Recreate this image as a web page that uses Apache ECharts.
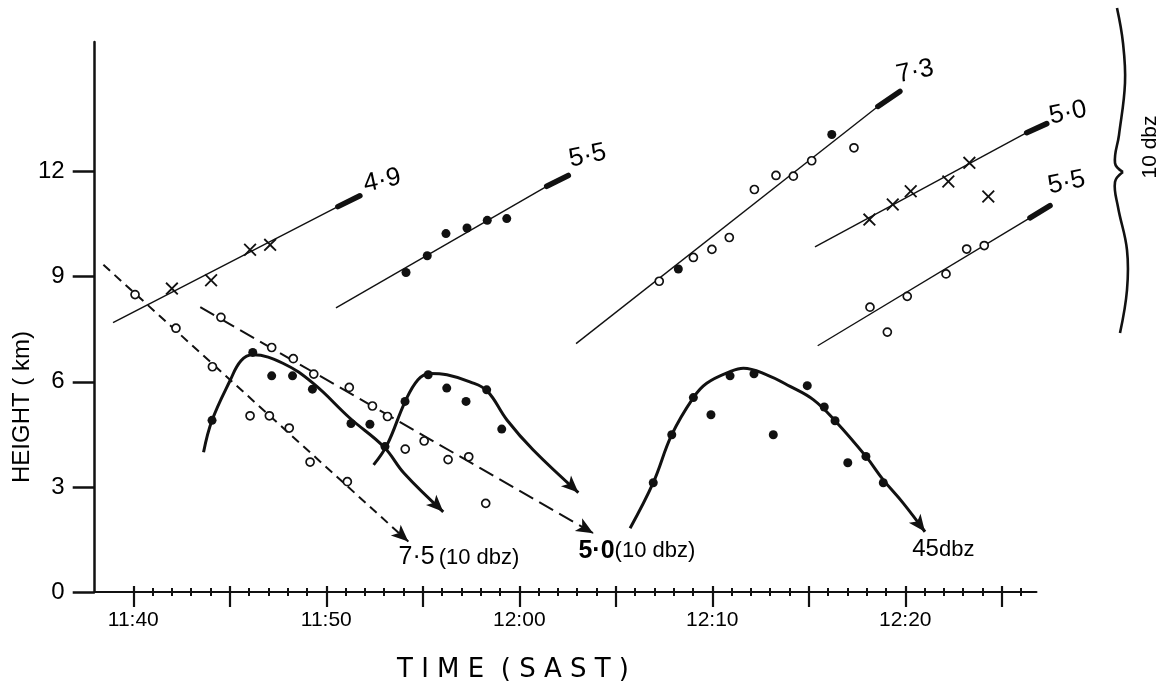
<!DOCTYPE html>
<html>
<head>
<meta charset="utf-8">
<title>Echo top heights (SAST)</title>
<script src="https://cdn.jsdelivr.net/npm/echarts@6.0.0/dist/echarts.min.js"></script>
<style>
  html, body { margin: 0; padding: 0; background: #fff; }
  #main { width: 1168px; height: 698px; }
</style>
</head>
<body>
<div id="main"></div>
<script>
var ink = '#111';

// axis: x in minutes after 11:00 SAST, y in km
var timeLabels = [40, 50, 60, 70, 80];
var fiveMinTicks = [40, 45, 50, 55, 60, 65, 70, 75, 80, 85];
var minuteTicks = [];
for (var m = 40; m <= 86; m++) minuteTicks.push(m);
var heightTicks = [0, 3, 6, 9, 12];

// 4·9 cell (crosses)
var fit49 = [[38.95, 7.69], [50.6, 11.0]];
var head49 = [[50.6, 11.0], [51.74, 11.31]];
var cross49 = [[42.0, 8.66], [44.03, 8.9], [46.05, 9.77], [47.09, 9.91]];

// 5·5 cell (dots)
var fit55a = [[50.5, 8.11], [61.42, 11.58]];
var head55a = [[61.42, 11.58], [62.54, 11.89]];
var dots55a = [[54.13, 9.12], [55.23, 9.6], [56.2, 10.23], [57.29, 10.39], [58.34, 10.61], [59.35, 10.66]];

// 7·3 cell (circles, two dots)
var fit73 = [[62.94, 7.09], [78.58, 13.86]];
var head73 = [[78.58, 13.86], [79.72, 14.29]];
var rings73 = [[67.25, 8.87], [69.02, 9.55], [69.98, 9.78], [70.88, 10.12], [72.18, 11.49],
               [73.3, 11.89], [74.2, 11.87], [75.15, 12.31], [77.34, 12.68]];
var dots73 = [[68.24, 9.22], [76.19, 13.06]];

// 5·0 cell (crosses)
var fit50 = [[75.32, 9.85], [86.29, 13.11]];
var head50 = [[86.29, 13.11], [87.33, 13.37]];
var cross50 = [[78.14, 10.63], [79.35, 11.06], [80.28, 11.44], [82.23, 11.72], [83.32, 12.25], [84.3, 11.29]];

// lower 5·5 cell (circles)
var fit55b = [[75.46, 7.03], [86.46, 10.68]];
var head55b = [[86.46, 10.68], [87.5, 11.03]];
var rings55b = [[78.17, 8.13], [79.07, 7.42], [80.1, 8.44], [82.11, 9.08], [83.18, 9.79], [84.09, 9.89]];

// 10 dbz descending tops
var lineA = [[38.45, 9.34], [54.25, 1.44]];
var ringsA = [[40.09, 8.49], [42.21, 7.53], [44.1, 6.43], [46.05, 5.03], [47.05, 5.03],
              [48.08, 4.68], [49.16, 3.71], [51.09, 3.15]];
var lineB = [[43.47, 8.13], [63.83, 1.68]];
var ringsB = [[44.54, 7.84], [47.17, 6.98], [48.29, 6.66], [49.35, 6.22], [51.19, 5.84], [52.39, 5.31],
              [53.17, 5.01], [54.09, 4.08], [55.07, 4.31], [56.31, 3.78], [57.38, 3.86], [58.26, 2.53]];

// 45 dbz tops
var curve1 = [[43.64, 3.99], [44.08, 4.9], [45.01, 6.03], [45.58, 6.6], [46.2, 6.77], [47.75, 6.53],
              [49.31, 5.96], [51.23, 4.96], [52.99, 4.14], [54.03, 3.39], [56.06, 2.29]];
var dots1 = [[44.08, 4.9], [46.19, 6.84], [47.17, 6.17], [48.25, 6.17], [49.28, 5.79],
             [51.28, 4.81], [52.26, 4.79], [53.04, 4.15]];
var curve2 = [[52.45, 3.63], [53.15, 4.2], [54.08, 5.43], [54.75, 6.06], [55.37, 6.24], [56.25, 6.2],
              [57.44, 6.0], [58.33, 5.74], [59.36, 4.91], [60.71, 4.06], [63.06, 2.84]];
var dots2 = [[54.08, 5.44], [55.28, 6.2], [56.24, 5.82], [57.24, 5.44], [58.31, 5.77], [59.09, 4.65]];
var curve3 = [[65.74, 1.82], [66.94, 3.12], [67.9, 4.49], [69.02, 5.55], [69.71, 5.96], [70.92, 6.29],
              [71.61, 6.39], [72.82, 6.2], [74.03, 5.87], [75.23, 5.49], [76.36, 4.89], [77.96, 3.87],
              [78.86, 3.2], [79.9, 2.53], [81.02, 1.72]];
var dots3 = [[66.94, 3.12], [67.9, 4.49], [69.02, 5.55], [69.93, 5.06], [70.92, 6.17], [72.16, 6.23],
             [73.16, 4.49], [74.92, 5.89], [75.8, 5.28], [76.36, 4.89], [77.02, 3.69], [77.96, 3.87], [78.86, 3.12]];

var crossPath = 'path://M1,0L5,4L9,0L10,1L6,5L10,9L9,10L5,6L1,10L0,9L4,5L0,1Z';
var font = 'Liberation Sans, Arial, sans-serif';

function thin(pts) {
  return { type: 'line', data: pts, symbol: 'none', silent: true, z: 2,
           lineStyle: { color: ink, width: 1.4 } };
}
function head(pts) {
  return { type: 'line', data: pts, symbol: 'none', silent: true, z: 2,
           lineStyle: { color: ink, width: 5.5, cap: 'round' } };
}
function arrowed(pts, dash, width) {
  var n = pts.length;
  return {
    type: 'line', data: pts, symbol: 'none', silent: true, z: 3,
    smooth: dash ? false : 0.4,
    lineStyle: { color: ink, width: width, type: dash || 'solid' },
    markLine: {
      silent: true, animation: false, symbol: ['none', 'arrow'], symbolSize: [11, 17],
      lineStyle: { color: ink, width: 0, type: 'solid' }, label: { show: false },
      data: [[{ coord: pts[n - 2] }, { coord: pts[n - 1] }]]
    }
  };
}
function marks(pts, kind) {
  var s = { type: 'scatter', data: pts, silent: true, z: 5 };
  if (kind === 'ring') {
    s.symbol = 'circle'; s.symbolSize = 8;
    s.itemStyle = { color: '#fff', borderColor: ink, borderWidth: 1.7, opacity: 1 };
  } else if (kind === 'dot') {
    s.symbol = 'circle'; s.symbolSize = 9;
    s.itemStyle = { color: ink, opacity: 1 };
  } else {
    s.symbol = crossPath; s.symbolSize = 13;
    s.itemStyle = { color: ink, opacity: 1 };
  }
  return s;
}
function tag(pt, text, offset, extra) {
  var label = { show: true, position: 'right', distance: 4, offset: offset, color: '#000',
                fontFamily: font, fontSize: 26, formatter: text };
  for (var k in extra) label[k] = extra[k];
  return { type: 'scatter', data: [pt], symbolSize: 0.5, itemStyle: { color: ink, opacity: 1 },
           silent: true, z: 6, label: label };
}

// grid 0 carries the visible axes; grid 1 (same scale, a little wider) carries the data
var baseX = { type: 'value', min: 38, max: 86.8, gridIndex: 0, position: 'bottom', splitLine: { show: false } };
function xAx(extra) {
  var a = {};
  for (var k in baseX) a[k] = baseX[k];
  for (var j in extra) a[j] = extra[j];
  return a;
}

var series = [
  thin(fit49), head(head49), marks(cross49, 'cross'),
  thin(fit55a), head(head55a), marks(dots55a, 'dot'),
  thin(fit73), head(head73), marks(rings73, 'ring'), marks(dots73, 'dot'),
  thin(fit50), head(head50), marks(cross50, 'cross'),
  thin(fit55b), head(head55b), marks(rings55b, 'ring'),
  arrowed(lineA, [9, 6], 2), marks(ringsA, 'ring'),
  arrowed(lineB, [16, 7], 2), marks(ringsB, 'ring'),
  arrowed(curve1, null, 3), marks(dots1, 'dot'),
  arrowed(curve2, null, 3), marks(dots2, 'dot'),
  arrowed(curve3, null, 3), marks(dots3, 'dot'),
  tag(head49[1], '4·9', [2, -11], { rotate: 12 }),
  tag(head55a[1], '5·5', [0, -16], { rotate: 12 }),
  tag(head73[1], '7·3', [-4, -17], { rotate: 12 }),
  tag(head50[1], '5·0', [0, -7], { rotate: 12 }),
  tag(head55b[1], '5·5', [-2, -20], { rotate: 12 }),
  tag(lineA[1], '{a|7·5}{b|(10 dbz)}', [-14, 16],
      { rich: { a: { fontSize: 25, fontFamily: font, color: '#000' }, b: { fontSize: 22, fontFamily: font, color: '#000', padding: [0, 0, 0, 4] } } }),
  tag(lineB[1], '{a|5·0}{b|(10 dbz)}', [-19, 18],
      { rich: { a: { fontSize: 25, fontWeight: 'bold', fontFamily: font, color: '#000' }, b: { fontSize: 22, fontFamily: font, color: '#000' } } }),
  tag(curve3[curve3.length - 1], '{a|45}{b|dbz}', [-17, 18],
      { rich: { a: { fontSize: 24, fontFamily: font, color: '#000' }, b: { fontSize: 22, fontFamily: font, color: '#000' } } })
];
series.forEach(function (s) { s.xAxisIndex = 4; s.yAxisIndex = 1; s.clip = false; });

var chart = echarts.init(document.getElementById('main'));
chart.setOption({
  animation: false,
  backgroundColor: '#fff',
  grid: [
    { left: 94.7, right: 131.5, top: 42, bottom: 106 },
    { left: 94.7, right: 108.3, top: 42, bottom: 106 }
  ],
  xAxis: [
    xAx({
      axisLine: { show: true, lineStyle: { color: ink, width: 2 } },
      axisTick: { show: true, customValues: minuteTicks, length: 4, lineStyle: { color: ink, width: 2 } },
      axisLabel: {
        customValues: timeLabels, margin: 18, color: '#000', fontFamily: font, fontSize: 21,
        formatter: function (v) {
          var h = 11 + Math.floor(v / 60), mm = v % 60;
          return h + ':' + (mm < 10 ? '0' + mm : mm);
        }
      }
    }),
    xAx({ axisLine: { show: false }, axisLabel: { show: false },
          axisTick: { show: true, inside: true, customValues: minuteTicks, length: 4, lineStyle: { color: ink, width: 2 } } }),
    xAx({ axisLine: { show: false }, axisLabel: { show: false },
          axisTick: { show: true, customValues: fiveMinTicks, length: 15, lineStyle: { color: ink, width: 2.2 } } }),
    xAx({ axisLine: { show: false }, axisLabel: { show: false },
          axisTick: { show: true, inside: true, customValues: fiveMinTicks, length: 6, lineStyle: { color: ink, width: 2.2 } } }),
    { type: 'value', gridIndex: 1, min: 38, max: 88, show: false }
  ],
  yAxis: [
    {
      type: 'value', gridIndex: 0, min: 0, max: 15.7, splitLine: { show: false },
      axisLine: { show: true, lineStyle: { color: ink, width: 2.5 } },
      axisTick: { show: true, customValues: heightTicks, length: 22, lineStyle: { color: ink, width: 2.5 } },
      axisLabel: { customValues: heightTicks, margin: 30, color: '#000', fontFamily: font, fontSize: 24 }
    },
    { type: 'value', gridIndex: 1, min: 0, max: 15.7, show: false }
  ],
  graphic: [
    { type: 'text', x: 22, y: 407, rotation: Math.PI / 2,
      style: { text: 'HEIGHT ( km)', fill: '#000', font: '24px ' + font, align: 'center', verticalAlign: 'middle' } },
    { type: 'text', x: 513, y: 670,
      style: { text: 'T I M E  ( S A S T )', fill: '#000', font: '26px DejaVu Sans, sans-serif', align: 'center', verticalAlign: 'middle' } },
    { type: 'polyline', shape: { points: [[1117, 8], [1123, 43], [1125, 83], [1119, 135], [1115, 163], [1123, 172]], smooth: 0.4 },
      style: { stroke: ink, lineWidth: 2.6, fill: null } },
    { type: 'polyline', shape: { points: [[1123, 172], [1115, 182], [1118, 207], [1127, 250], [1127, 290], [1120, 333]], smooth: 0.4 },
      style: { stroke: ink, lineWidth: 2.6, fill: null } },
    { type: 'text', x: 1150, y: 147, rotation: Math.PI / 2,
      style: { text: '10 dbz', fill: '#000', font: '21px ' + font, align: 'center', verticalAlign: 'middle' } }
  ],
  series: series
});
window.addEventListener('resize', function () { chart.resize(); });
</script>
</body>
</html>
